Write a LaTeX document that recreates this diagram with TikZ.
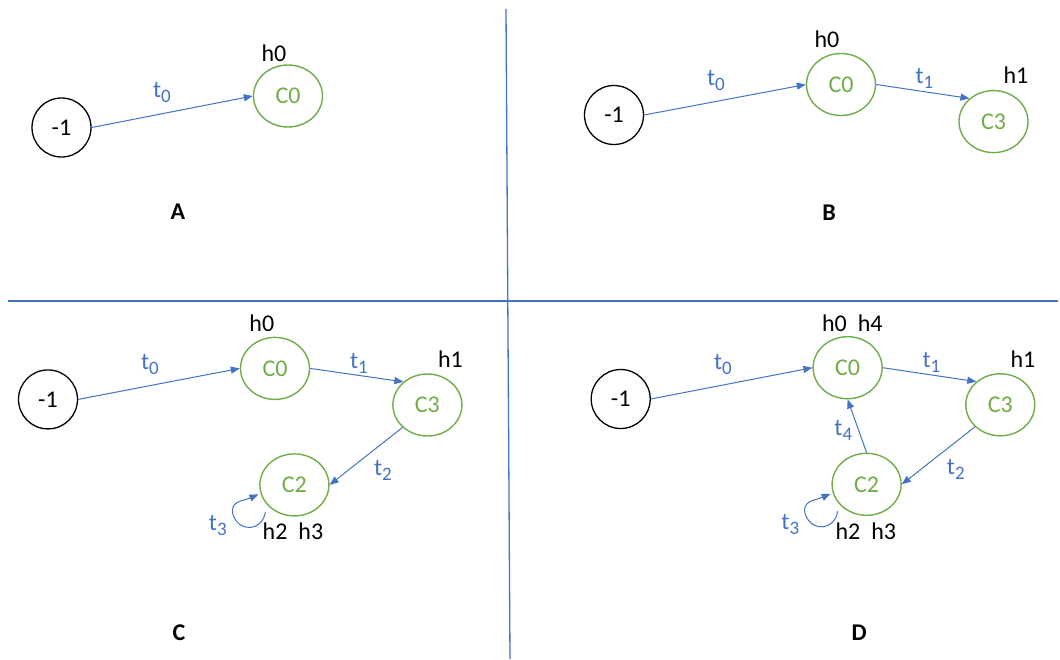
\documentclass[tikz,border=0pt]{standalone}
\usepackage{fontspec}
\setmainfont{Carlito}
\usetikzlibrary{shapes.geometric,arrows.meta}
\definecolor{oblue}{HTML}{4472C4}
\definecolor{ogreen}{HTML}{70AD47}
\tikzset{
  base/.style={font=\fontsize{24}{28}\selectfont, inner sep=0pt},
  state/.style={base, ellipse, draw=ogreen, line width=1.4pt, text=ogreen, minimum width=69pt, minimum height=62pt},
  init/.style={base, circle, draw=black, line width=1.3pt, minimum size=59pt},
  hlab/.style={base, text=black},
  tlab/.style={base, text=oblue},
  plab/.style={inner sep=0pt, font=\fontsize{24}{28}\selectfont\bfseries},
  arr/.style={draw=oblue, line width=1pt, -{Triangle[length=9pt,width=7pt]}},
  divider/.style={draw=oblue, line width=1.3pt}
}
\newcommand{\tsub}[1]{t\raisebox{-5pt}{\fontsize{19}{19}\selectfont #1}}
\begin{document}
\begin{tikzpicture}[x=1pt,y=-1pt]
\useasboundingbox[fill=white] (0,0) rectangle (1060,659);
% dividers
\draw[divider] (506,9) -- (510,659);
\draw[divider] (8,301) -- (1058,301);

% ---------- Panel A ----------
\node[init]  (ma)  at (61.5,127.5) {-1};
\node[state] (a0)  at (288,96) {C0};
\node[hlab]  (ah0) at (274,53) {h0};
\node[tlab]  (at0) at (162,92) {\tsub{0}};
\node[plab]  (la)  at (178,212) {A};
\draw[arr] (ma.east) -- (a0.west);

% ---------- Panel B ----------
\node[init]  (mb)  at (614,115) {-1};
\node[state] (b0)  at (841,84.5) {C0};
\node[state] (b3)  at (993.5,121.6) {C3};
\node[hlab]  (bh0) at (827,39) {h0};
\node[hlab]  (bh1) at (1016,75.5) {h1};
\node[tlab]  (bt0) at (716,80) {\tsub{0}};
\node[tlab]  (bt1) at (924.5,78.5) {\tsub{1}};
\node[plab]  (lb)  at (829,213) {B};
\draw[arr] (mb.east) -- (b0.west);
\draw[arr] (b0.east) -- (b3.136);

% ---------- Panel C ----------
\node[init]  (mc)  at (48,399.4) {-1};
\node[state] (c0)  at (275,368.4) {C0};
\node[state] (c3)  at (427.4,405) {C3};
\node[state] (c2)  at (294.4,484.9) {C2};
\node[hlab]  (ch0) at (261.8,323.5) {h0};
\node[hlab]  (ch1) at (450.4,359) {h1};
\node[hlab]  (ch23) at (293,531.4) {h2\hspace{11pt}h3};
\node[tlab]  (ct0) at (150,364.8) {\tsub{0}};
\node[tlab]  (ct1) at (359,363.2) {\tsub{1}};
\node[tlab]  (ct2) at (383,470.5) {\tsub{2}};
\node[tlab]  (ct3) at (217.8,525.4) {\tsub{3}};
\node[plab]  (lc)  at (179,632.7) {C};
\draw[arr] (mc.east) -- (c0.west);
\draw[arr] (c0.east) -- (c3.136);
\draw[arr] (c3.222) -- (c2.east);
\draw[arr] ([shift={(-29,27)}]c2.center) .. controls +(-3,19) and +(7,17) .. ([shift={(-61,31)}]c2.center) .. controls +(-5,-15) and +(-15,6.5) .. ([shift={(-36,9.5)}]c2.center);

% ---------- Panel D ----------
\node[init]  (md)  at (620.7,399) {-1};
\node[state] (d0)  at (847.6,367.7) {C0};
\node[state] (d3)  at (1000.3,404.8) {C3};
\node[state] (d2)  at (866.6,484.3) {C2};
\node[hlab]  (dh04) at (852.3,323) {h0\hspace{11pt}h4};
\node[hlab]  (dh1) at (1023,359.4) {h1};
\node[hlab]  (dh23) at (865.8,530.9) {h2\hspace{11pt}h3};
\node[tlab]  (dt0) at (723,364.5) {\tsub{0}};
\node[tlab]  (dt1) at (931.5,362.8) {\tsub{1}};
\node[tlab]  (dt2) at (955.8,469.5) {\tsub{2}};
\node[tlab]  (dt3) at (790.3,524.8) {\tsub{3}};
\node[tlab]  (dt4) at (843.3,430.3) {\tsub{4}};
\node[plab]  (ld)  at (859.2,632.5) {D};
\draw[arr] (md.east) -- (d0.west);
\draw[arr] (d0.east) -- (d3.136);
\draw[arr] (d3.221) -- (d2.east);
\draw[arr] (d2.north) -- (d0.south);
\draw[arr] ([shift={(-29,27)}]d2.center) .. controls +(-3,19) and +(7,17) .. ([shift={(-61,31)}]d2.center) .. controls +(-5,-15) and +(-15,6.5) .. ([shift={(-36,9.5)}]d2.center);
\end{tikzpicture}
\end{document}
